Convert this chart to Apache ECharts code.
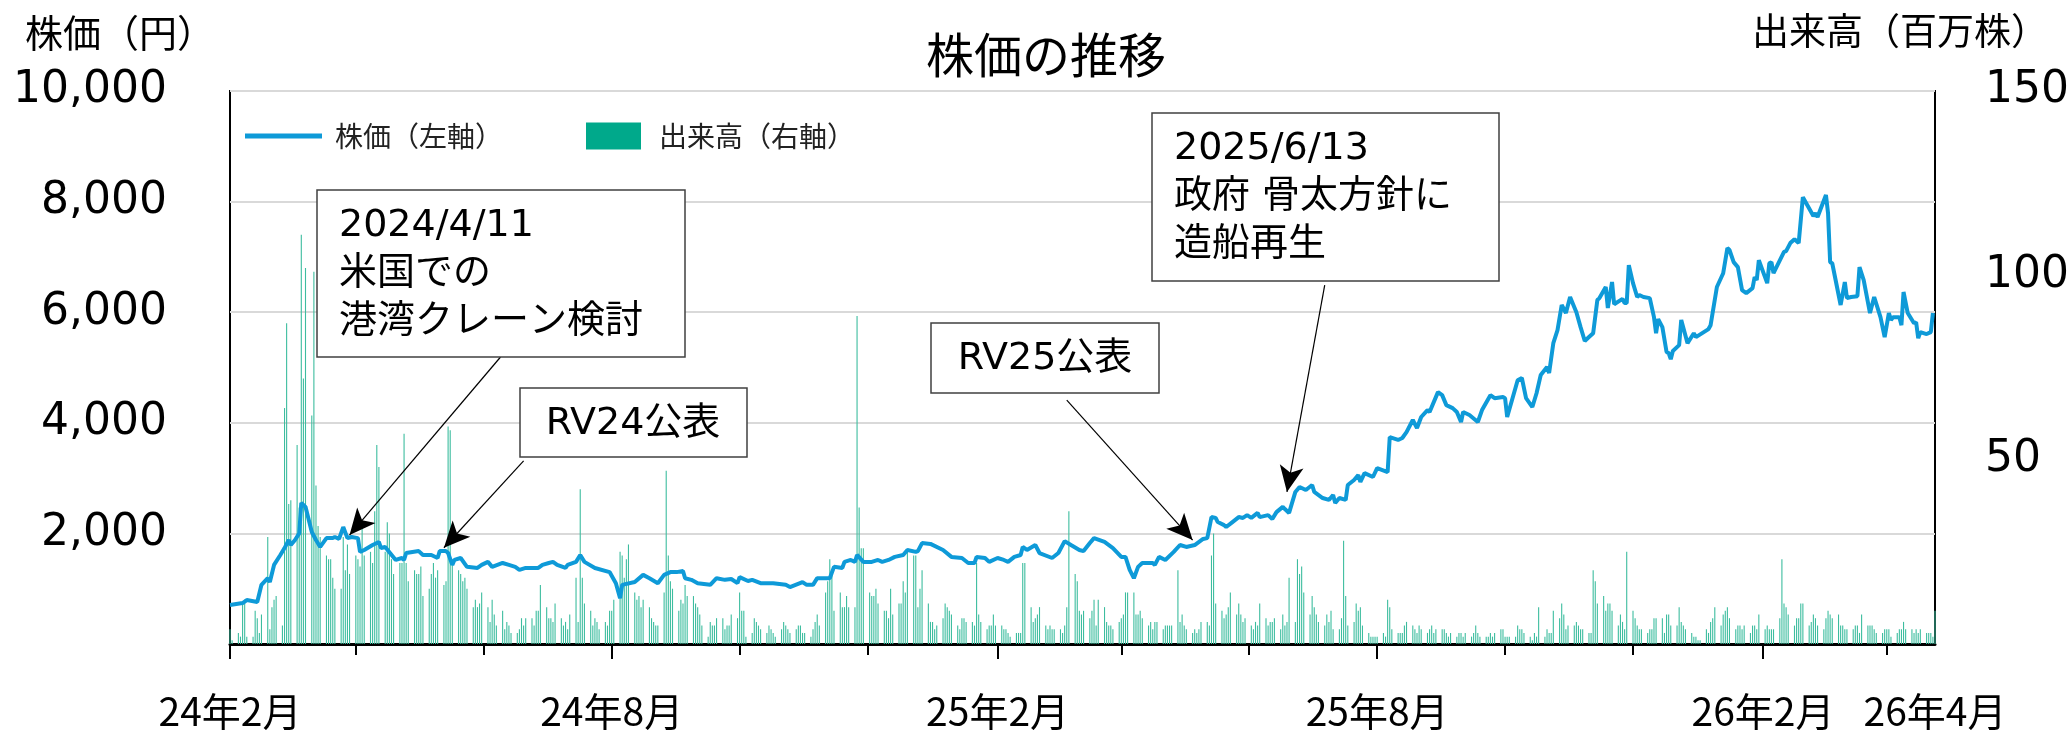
<!DOCTYPE html>
<html>
<head>
<meta charset="utf-8">
<title>株価の推移</title>
<script src="https://cdn.jsdelivr.net/npm/echarts@6/dist/echarts.min.js"></script>
<style>
  html, body { margin: 0; padding: 0; background: #fff; }
  #chart { width: 2069px; height: 730px; }
</style>
</head>
<body>
<div id="chart"></div>
<script>
// 横軸は 2024/2/1 からの経過日数
const axisMax = 813;
const monthTickDays = [0, 60, 121, 182, 243, 304, 366, 425, 486, 547, 608, 669, 731, 790];
const longTickDays = [0, 182, 366, 547, 731];
const labelDays = [0, 182, 366, 547, 731, 813];
const labelTexts = ['24年2月', '24年8月', '25年2月', '25年8月', '26年2月', '26年4月'];

// 株価（円）
const priceDays = [
  0, 6, 8, 13, 15, 18, 19, 21, 24, 26, 28, 29, 31, 33, 34, 36, 39, 41, 43, 46, 49, 50, 52, 54, 56, 58,
  61, 62, 64, 68, 71, 72, 74, 79, 82, 83, 84, 87, 90, 92, 96, 99, 100, 103, 104, 106, 107, 110, 113, 118, 120,
  123, 125, 130, 133, 136, 138, 141, 144, 147, 149, 152, 154, 156, 160, 161, 165, 167, 169, 174, 181,
  184, 186, 187, 193, 197, 200, 204, 207, 210, 213, 216, 217, 220, 223, 229, 232, 236, 239, 242,
  243, 247, 249, 253, 259, 265, 267, 273, 275, 278, 280, 286, 288, 292, 293, 296, 298, 299, 302,
  306, 309, 311, 314, 317, 321, 323, 327, 328, 330, 334, 340, 344, 349, 352, 355, 356, 360, 362,
  366, 369, 371, 374, 377, 378, 380, 384, 386, 392, 395, 398, 401, 405, 407, 410, 412, 417, 421,
  425, 427, 429, 431, 433, 435, 440, 441, 443, 446, 450, 453, 456, 460, 464, 466, 468, 470, 471, 474, 475,
  478, 481, 483, 485, 487, 490, 491, 495, 497, 499, 502, 503, 505, 508, 510, 513, 516, 517, 521, 524,
  526, 527, 529, 532, 533, 536, 538, 539, 541, 545, 547, 552, 553, 557, 559, 561, 564, 566, 568, 571, 572,
  576, 578, 580, 583, 585, 587, 588, 591, 595, 597, 601, 603, 607, 608, 609, 614, 616, 618, 621, 623, 625,
  628, 629, 631, 633, 635, 637, 639, 642, 644, 646, 648, 650, 652, 653, 656, 657, 659, 660, 664, 665, 666,
  667, 669, 671, 672, 674, 677, 679, 680, 681, 683, 685, 686, 687, 688, 691, 692, 695, 698, 699,
  705, 706, 709, 712, 714, 715, 717, 719, 721, 723, 726, 727, 728, 729, 733, 734, 735, 736,
  741, 742, 744, 746, 748, 750, 755, 756, 757, 761, 762, 763, 764, 768, 770, 771, 773, 776, 777, 779,
  782, 784, 787, 789, 791, 792, 793, 796, 797, 798, 800, 803, 804, 805, 806, 809, 811, 812
];
const priceYen = [
  705, 740, 795, 760, 1070, 1190, 1120, 1430, 1610, 1735, 1880, 1790, 1880, 2000, 2550, 2480, 2025, 1880, 1755, 1915, 1915, 1935, 1900, 2115, 1915, 1935,
  1915, 1665, 1700, 1790, 1845, 1735, 1755, 1520, 1555, 1520, 1645, 1665, 1680, 1610, 1610, 1555, 1680, 1680, 1645, 1430, 1520, 1555, 1395, 1375, 1430,
  1485, 1395, 1465, 1430, 1395, 1340, 1375, 1375, 1375, 1430, 1465, 1485, 1430, 1375, 1430, 1485, 1610, 1485, 1375, 1300,
  1100, 830, 1070, 1120, 1250, 1190, 1100, 1250, 1300, 1300, 1320, 1190, 1160, 1100, 1070, 1190, 1160, 1175, 1100,
  1210, 1140, 1160, 1100, 1100, 1070, 1030, 1120, 1070, 1070, 1190, 1190, 1395, 1375, 1485, 1520, 1485, 1610, 1485,
  1485, 1520, 1485, 1520, 1575, 1610, 1700, 1665, 1680, 1825, 1810, 1700, 1575, 1555, 1465, 1465, 1575, 1555, 1485,
  1555, 1520, 1485, 1575, 1610, 1755, 1700, 1790, 1645, 1555, 1645, 1860, 1790, 1700, 1680, 1825, 1915, 1845, 1735,
  1575, 1575, 1340, 1190, 1395, 1465, 1465, 1430, 1575, 1520, 1665, 1790, 1755, 1790, 1900, 1915, 2295, 2280, 2205, 2150, 2115,
  2205, 2295, 2280, 2330, 2280, 2370, 2295, 2330, 2260, 2385, 2480, 2440, 2370, 2750, 2840, 2785, 2875, 2750, 2640, 2605,
  2695, 2550, 2640, 2605, 2875, 2965, 3055, 2930, 3090, 3020, 3180, 3110, 3740, 3690, 3725, 3830, 4050, 3905, 4105, 4230, 4195,
  4555, 4500, 4320, 4265, 4195, 4015, 4195, 4140, 4015, 4230, 4500, 4445, 4465, 4445, 4105, 4770, 4810, 4445, 4285, 4535, 4865,
  5010, 4900, 5440, 5675, 6130, 5985, 6275, 6000, 5730, 5480, 5550, 5620, 6220, 6255, 6455, 6075, 6545, 6145, 6240, 6165, 6165,
  6850, 6525, 6275, 6310, 6275, 6255, 5910, 5620, 5875, 5730, 5280, 5260, 5150, 5300, 5405, 5860, 5440, 5620, 5550,
  5695, 5765, 6455, 6705, 7160, 7125, 6905, 6815, 6400, 6345, 6435, 6635, 6580, 6940, 6525, 6885, 6905, 6705,
  7090, 7105, 7250, 7320, 7250, 8080, 7740, 7790, 7720, 8120, 7790, 6905, 6885, 6130, 6545, 6255, 6275, 6290, 6815, 6580,
  5985, 6275, 5910, 5550, 5985, 5860, 5910, 5910, 5765, 6365, 5985, 5800, 5820, 5530, 5640, 5605, 5640, 5985
];

// 出来高（百万株）、営業日ごと
const volume2024 = [
  4, 1, 3, 2, 11, 12, 2, 2, 9, 7, 3, 8, 29, 4, 10, 12, 13, 5, 64, 87, 38,
  39, 54, 37, 111, 72, 102, 62, 101, 43, 32, 29, 24, 23, 23, 18, 15, 15, 29, 20, 27, 19,
  24, 23, 21, 32, 24, 25, 22, 36, 54, 48, 25, 33, 30, 23, 19, 22, 22, 57, 22, 17, 20, 19,
  19, 21, 13, 15, 19, 22, 18, 20, 16, 17, 59, 58, 22, 20, 19, 17, 18, 15, 10, 12, 10, 11, 14,
  10, 6, 12, 8, 5, 9, 4, 6, 5, 3, 3, 4, 7, 5, 7, 7, 5, 9, 9, 16,
  10, 7, 7, 6, 11, 7, 5, 6, 4, 8, 18, 6, 42, 18, 11, 9, 5, 7, 6, 4, 6, 5, 9,
  9, 12, 25, 24, 18, 23, 27, 14, 12, 13, 10, 12, 10, 7, 6, 5, 5, 14, 47, 24, 17, 15,
  9, 12, 11, 16, 13, 13, 11, 10, 8, 5, 2, 6, 5, 5, 7, 7, 4, 5, 5, 8, 7,
  14, 9, 9, 2, 3, 7, 6, 5, 4, 3, 5, 4, 3, 2, 4, 6, 5, 4, 3, 4, 5, 5, 3,
  3, 2, 4, 6, 8, 5, 14, 17, 23, 20, 9, 14, 10, 10, 13, 10, 10, 89, 37, 26, 26,
  14, 13, 13, 15, 11, 9, 9, 7, 15, 8, 11, 11, 17, 14, 25, 24, 24, 10, 15, 20, 11, 6
];
const volume2025 = [
  6, 4, 5, 7, 11, 10, 9, 8, 5, 4, 7, 7, 6, 6, 5, 22, 8, 6, 4, 5, 5, 8, 5,
  5, 4, 4, 3, 2, 3, 3, 3, 22, 22, 10, 6, 7, 8, 10, 5, 4, 5, 4, 4,
  4, 3, 5, 10, 36, 19, 17, 9, 8, 9, 7, 9, 12, 5, 12, 10, 6, 5, 5, 4, 6,
  7, 8, 14, 14, 14, 8, 8, 9, 7, 5, 6, 4, 6, 6, 4, 5, 5, 5, 5, 20, 6, 8,
  5, 4, 3, 4, 3, 4, 6, 6, 5, 24, 30, 11, 9, 7, 8, 10, 14, 8, 11, 8, 6, 7,
  5, 4, 6, 5, 11, 7, 5, 6, 6, 7, 4, 8, 5, 6, 18, 6, 23, 19, 21, 14, 8,
  13, 10, 8, 6, 5, 8, 6, 9, 4, 4, 7, 28, 13, 5, 6, 11, 9, 10, 5, 3, 2, 2, 2,
  2, 3, 2, 12, 10, 4, 3, 3, 3, 5, 6, 5, 4, 3, 5, 4, 3, 4, 5, 3, 4,
  4, 4, 3, 2, 3, 2, 3, 3, 2, 3, 2, 3, 5, 3, 2, 2, 2, 3, 2, 3, 4, 4,
  2, 2, 2, 2, 5, 4, 4, 3, 2, 1, 3, 2, 10, 2, 4, 3, 3, 9, 7, 11, 8, 4, 5,
  5, 6, 5, 4, 4, 3, 3, 20, 17, 11, 13, 9, 11, 11, 9, 5, 8, 6, 4, 25,
  9, 7, 5, 4, 4, 3, 4, 4, 7, 7, 7, 3, 8, 8, 5, 5, 10, 6, 5, 4, 3, 2, 2
];
const volume2026 = [
  1, 1, 4, 3, 6, 7, 10, 5, 8, 9, 10, 7, 4, 5, 5, 4, 5, 3, 5, 5, 4, 8,
  4, 5, 4, 4, 4, 7, 23, 11, 10, 8, 5, 7, 7, 11, 11, 5, 6, 8, 7, 5,
  4, 7, 9, 8, 7, 8, 5, 5, 4, 4, 4, 5, 5, 3, 8, 5, 5, 5, 4, 3, 3, 4,
  4, 4, 2, 3, 4, 4, 6, 4, 4, 3, 4, 3, 4, 3, 3, 3, 2, 9
];

// 注記：矢印の始点と先端（日数, 円）
const arrowFrom = [[129, 5190], [140, 3310], [399, 4410], [522, 6490]];
const arrowTo = [[57, 1970], [102, 1740], [459, 1880], [504, 2750]];

const FONT = '"Noto Sans CJK JP", sans-serif';
const NUM_FONT = '"DejaVu Sans", "Noto Sans CJK JP", sans-serif';
const LINE_COLOR = '#0e9ad8';
const BAR_COLOR = '#00a98b';
const BAR_THIN = '#3dbd9f';

const priceData = priceDays.map((d, i) => [d, priceYen[i]]);

// 土日を飛ばして営業日に出来高を並べる（2024/2/1 は木曜）
const volData = [];
let day = 0;
volume2024.concat(volume2025, volume2026).forEach(v => {
  while ((4 + day) % 7 === 6 || (4 + day) % 7 === 0) day++;
  volData.push([day, v]);
  day++;
});

const arrowData = arrowFrom.map((f, i) => [{ coord: f }, { coord: arrowTo[i] }]);

function noteBox(x, y, w, h) {
  return {
    type: 'rect', z: 100,
    shape: { x: x, y: y, width: w, height: h },
    style: { fill: '#fff', stroke: '#404040', lineWidth: 1.5 }
  };
}
function noteText(x, y, text, align) {
  return {
    type: 'text', z: 101, x: x, y: y,
    style: {
      text: text, font: '38px ' + NUM_FONT, fill: '#000', lineHeight: 48,
      align: align || 'left', verticalAlign: align ? 'middle' : 'top'
    }
  };
}

const chart = echarts.init(document.getElementById('chart'));
chart.setOption({
  animation: false,
  backgroundColor: '#fff',
  textStyle: { fontFamily: FONT },
  grid: {
    left: 230, top: 91, right: 134, bottom: 86,
    show: true, borderColor: '#000', borderWidth: 2,
    containLabel: false, outerBoundsMode: 'none'
  },
  legend: [
    {
      data: [{ name: '株価（左軸）', icon: 'rect', itemStyle: { color: LINE_COLOR } }],
      left: 240, top: 117,
      itemWidth: 77, itemHeight: 5,
      textStyle: { fontSize: 28, color: '#222', fontFamily: FONT, padding: [0, 0, 0, 8] }
    },
    {
      data: [{ name: '出来高（右軸）', icon: 'rect', itemStyle: { color: BAR_COLOR } }],
      left: 581, top: 117,
      itemWidth: 55, itemHeight: 27,
      textStyle: { fontSize: 28, color: '#222', fontFamily: FONT, padding: [0, 0, 0, 13] }
    }
  ],
  xAxis: [
    {
      type: 'value', min: 0, max: axisMax, position: 'bottom',
      axisLine: { show: true, onZero: false, lineStyle: { color: '#000', width: 3 } },
      axisTick: { show: true, customValues: monthTickDays, length: 11, lineStyle: { color: '#000', width: 2 } },
      axisLabel: { show: false },
      splitLine: { show: false }
    },
    {
      type: 'value', min: 0, max: axisMax, position: 'bottom',
      axisLine: { show: false },
      axisTick: { show: true, customValues: longTickDays, length: 15, lineStyle: { color: '#000', width: 2 } },
      axisLabel: {
        customValues: labelDays,
        formatter: v => labelTexts[labelDays.indexOf(v)],
        fontSize: 39, color: '#000', fontFamily: FONT, margin: 48
      },
      splitLine: { show: false }
    }
  ],
  yAxis: [
    {
      type: 'value', min: 0, max: 10000, interval: 2000, position: 'left',
      axisLine: { show: false }, axisTick: { show: false },
      axisLabel: {
        showMinLabel: false, margin: 63, fontSize: 44, color: '#000', fontFamily: NUM_FONT,
        formatter: v => v.toLocaleString('en-US')
      },
      splitLine: { show: true, lineStyle: { color: '#d9d9d9', width: 2 } }
    },
    {
      type: 'value', min: 0, max: 150, interval: 50, position: 'right',
      axisLine: { show: false }, axisTick: { show: false },
      axisLabel: { showMinLabel: false, margin: 50, fontSize: 44, color: '#000', fontFamily: NUM_FONT },
      splitLine: { show: false }
    }
  ],
  series: [
    {
      name: '出来高（右軸）', type: 'bar', xAxisIndex: 0, yAxisIndex: 1,
      data: volData, barWidth: 1.1,
      itemStyle: { color: BAR_THIN },
      z: 2
    },
    {
      name: '株価（左軸）', type: 'line', xAxisIndex: 0, yAxisIndex: 0,
      data: priceData, symbol: 'none',
      lineStyle: { color: LINE_COLOR, width: 4 },
      itemStyle: { color: LINE_COLOR },
      z: 3,
      markLine: {
        silent: true,
        symbol: ['none', 'arrow'],
        symbolSize: [18, 26],
        lineStyle: { color: '#000', width: 1.2, type: 'solid' },
        label: { show: false },
        emphasis: { disabled: true },
        data: arrowData
      }
    }
  ],
  graphic: [
    { type: 'text', x: 1046, y: 55, style: { text: '株価の推移', font: '48px ' + FONT, fill: '#000', align: 'center', verticalAlign: 'middle' } },
    { type: 'text', x: 120, y: 33, style: { text: '株価（円）', font: '38px ' + FONT, fill: '#000', align: 'center', verticalAlign: 'middle' } },
    { type: 'text', x: 1900, y: 31, style: { text: '出来高（百万株）', font: '37px ' + FONT, fill: '#000', align: 'center', verticalAlign: 'middle' } },
    noteBox(317, 190, 368, 167),
    noteText(339, 202, '2024/4/11\n米国での\n港湾クレーン検討'),
    noteBox(520, 388, 227, 69),
    noteText(633, 424, 'RV24公表', 'center'),
    noteBox(931, 323, 228, 70),
    noteText(1045, 359, 'RV25公表', 'center'),
    noteBox(1152, 113, 347, 168),
    noteText(1174, 125, '2025/6/13\n政府 骨太方針に\n造船再生')
  ]
});
</script>
</body>
</html>
